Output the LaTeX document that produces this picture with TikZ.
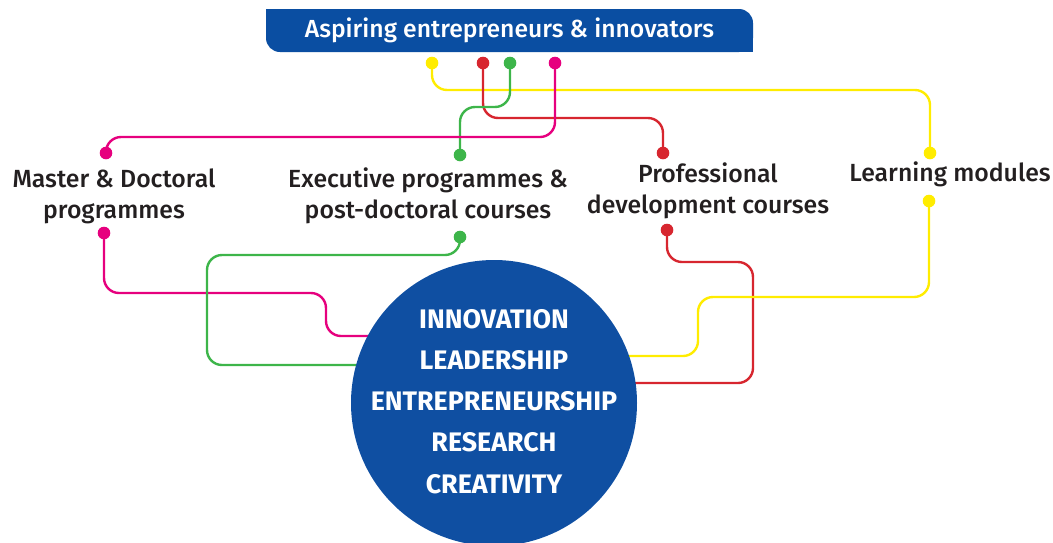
\documentclass[tikz,border=0pt]{standalone}
\usepackage{fontspec}
\setmainfont{Fira Sans}[UprightFont={* Medium},BoldFont={* Bold}]
\usetikzlibrary{calc}
\definecolor{bannerblue}{HTML}{0A4EA2}
\definecolor{circblue}{HTML}{0F4FA2}
\definecolor{cmag}{HTML}{E6007E}
\definecolor{cgreen}{HTML}{3DB54A}
\definecolor{cred}{HTML}{D7262F}
\definecolor{cyel}{HTML}{FFEC00}
\definecolor{txt}{HTML}{231F20}
\begin{document}
\begin{tikzpicture}[x=1pt,y=-1pt,
  link/.style={line width=2.4pt,rounded corners=15pt},
  dotc/.style={radius=6.3pt},
  label/.style={align=center,text=txt,inner sep=0pt,font=\fontsize{24.8}{31}\selectfont},
  banner/.style={fill=bannerblue,rounded corners=14pt,minimum width=487pt,minimum height=43pt,inner sep=0pt,text=white,font=\fontsize{24.7}{28}\selectfont},
  bigcirc/.style={circle,fill=circblue,minimum size=286pt,inner sep=0pt},
  circtxt/.style={text=white,align=center,inner sep=0pt,font=\bfseries\fontsize{26.8}{41.2}\selectfont}]
\useasboundingbox (0,0) rectangle (1053,542);
% banner
\node[banner] (top) at (509.5,30.5) {Aspiring entrepreneurs \& innovators};
\fill[bannerblue] (top.north west) rectangle ++(24,20);
\fill[bannerblue] (top.south east) rectangle ++(-24,-20);
% labels
\node[label] (master) at (114,196.5) {Master \& Doctoral\\programmes};
\node[label] (exec) at (428,195.5) {Executive programmes \&\\post-doctoral courses};
\node[label] (prof) at (708,191) {Professional\\development courses};
\node[label] (learn) at (950,174) {Learning modules};
% dot coordinates
\coordinate (ty) at (432,63);
\coordinate (tr) at (483,63);
\coordinate (tg) at (510,63);
\coordinate (tm) at (555,63);
\coordinate (m1) at (106,153);
\coordinate (m2) at (104,233);
\coordinate (e1) at (460,155);
\coordinate (e2) at (460,237);
\coordinate (p1) at (663,153);
\coordinate (p2) at (667,230);
\coordinate (l1) at (930,153);
\coordinate (l2) at (929,201);
\coordinate (cc) at (494,403);
% top connectors
\draw[link,cyel] (ty) -- (ty |- 0,90) -- (l1 |- 0,90) -- (l1);
\draw[link,cred] (tr) -- (tr |- 0,118) -- (p1 |- 0,118) -- (p1);
\draw[link,cgreen] (tg) -- (tg |- 0,107) -- (e1 |- 0,107) -- (e1);
\draw[link,cmag] (tm) -- (tm |- 0,137) -- (m1 |- 0,137) -- (m1);
% bottom connectors
\draw[link,cmag] (m2) -- (m2 |- 0,293) -- (326,293) -- (326,336) -- (cc |- 0,336);
\draw[link,cgreen] (e2) -- (e2 |- 0,255) -- (207,255) -- (207,365) -- (cc |- 0,365);
\draw[link,cred] (p2) -- (p2 |- 0,262) -- (753,262) -- (753,383) -- (cc |- 0,383);
\draw[link,cyel] (l2) -- (l2 |- 0,297) -- (698,297) -- (698,356) -- (cc |- 0,356);
% dots
\foreach \d/\c in {ty/cyel,tr/cred,tg/cgreen,tm/cmag,m1/cmag,m2/cmag,e1/cgreen,e2/cgreen,p1/cred,p2/cred,l1/cyel,l2/cyel}
  \fill[\c] (\d) circle[dotc];
% circle
\node[bigcirc] (circ) at (cc) {};
\node[circtxt] (ctext) at ($(circ.center)+(0,-1.5)$) {INNOVATION\\LEADERSHIP\\ENTREPRENEURSHIP\\RESEARCH\\CREATIVITY};
\end{tikzpicture}
\end{document}
